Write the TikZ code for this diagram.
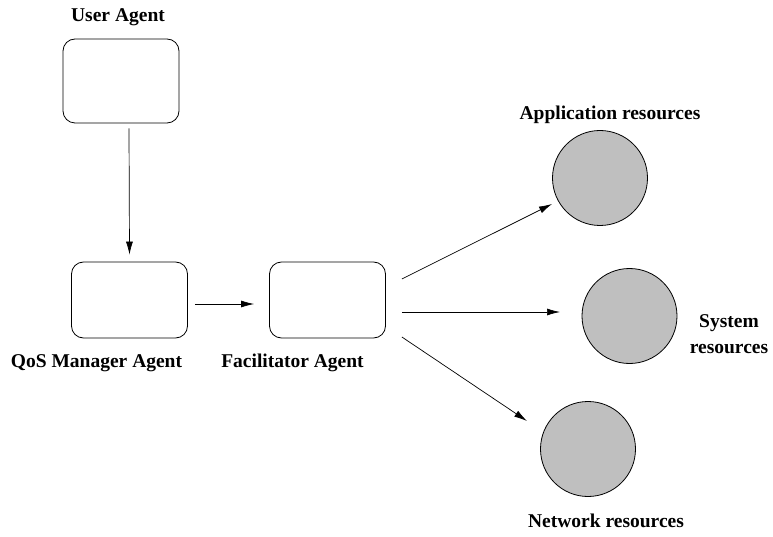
\documentclass[tikz,border=0pt]{standalone}
\usepackage{fontspec}
\setmainfont{Liberation Serif}
\usetikzlibrary{arrows.meta,calc}
\definecolor{circfill}{RGB}{191,191,191}
\begin{document}
\begin{tikzpicture}[x=1pt,y=-1pt,
  agentbox/.style={draw,line width=0.8pt,rounded corners=12pt,minimum width=116pt,minimum height=76pt,inner sep=0pt},
  resource/.style={draw,circle,fill=circfill,line width=0.8pt,minimum size=95pt,inner sep=0pt},
  lbl/.style={font=\fontsize{19.5}{26}\selectfont\bfseries,inner sep=0pt,align=center},
  arr/.style={-{Latex[length=13pt,width=7pt]},line width=0.7pt}]
\useasboundingbox (0,0) rectangle (773,537);
\node[agentbox,minimum height=84pt] (user) at (121,81) {};
\node[agentbox] (qos) at (129.5,300) {};
\node[agentbox] (fac) at (327.5,300) {};
\node[resource] (app) at (600,178) {};
\node[resource] (sys) at (629.5,316) {};
\node[resource] (net) at (588,449) {};
\node[lbl] (userl) at (118,17) {User Agent};
\node[lbl] (qosl) at (96.5,363) {QoS Manager Agent};
\node[lbl] (facl) at (292.5,363) {Facilitator Agent};
\node[lbl] (appl) at (610,115) {Application resources};
\node[lbl] (sysl) at (729,334) {System\\resources};
\node[lbl] (netl) at (606,521) {Network resources};
\draw[arr] ([xshift=8pt,yshift=-5pt]user.south) -- ([yshift=7pt]qos.north);
\draw[arr] ([xshift=7pt,yshift=-4pt]qos.east) -- ([xshift=-15pt,yshift=-4pt]fac.west);
\draw[arr] ([xshift=16pt,yshift=21pt]fac.east) -- ([xshift=-48pt,yshift=-26pt]app.center);
\draw[arr] ([xshift=16pt,yshift=-12pt]fac.east) -- ([xshift=-69.5pt,yshift=4pt]sys.center);
\draw[arr] ([xshift=16pt,yshift=-37pt]fac.east) -- ([xshift=-61pt,yshift=28pt]net.center);
\end{tikzpicture}
\end{document}
